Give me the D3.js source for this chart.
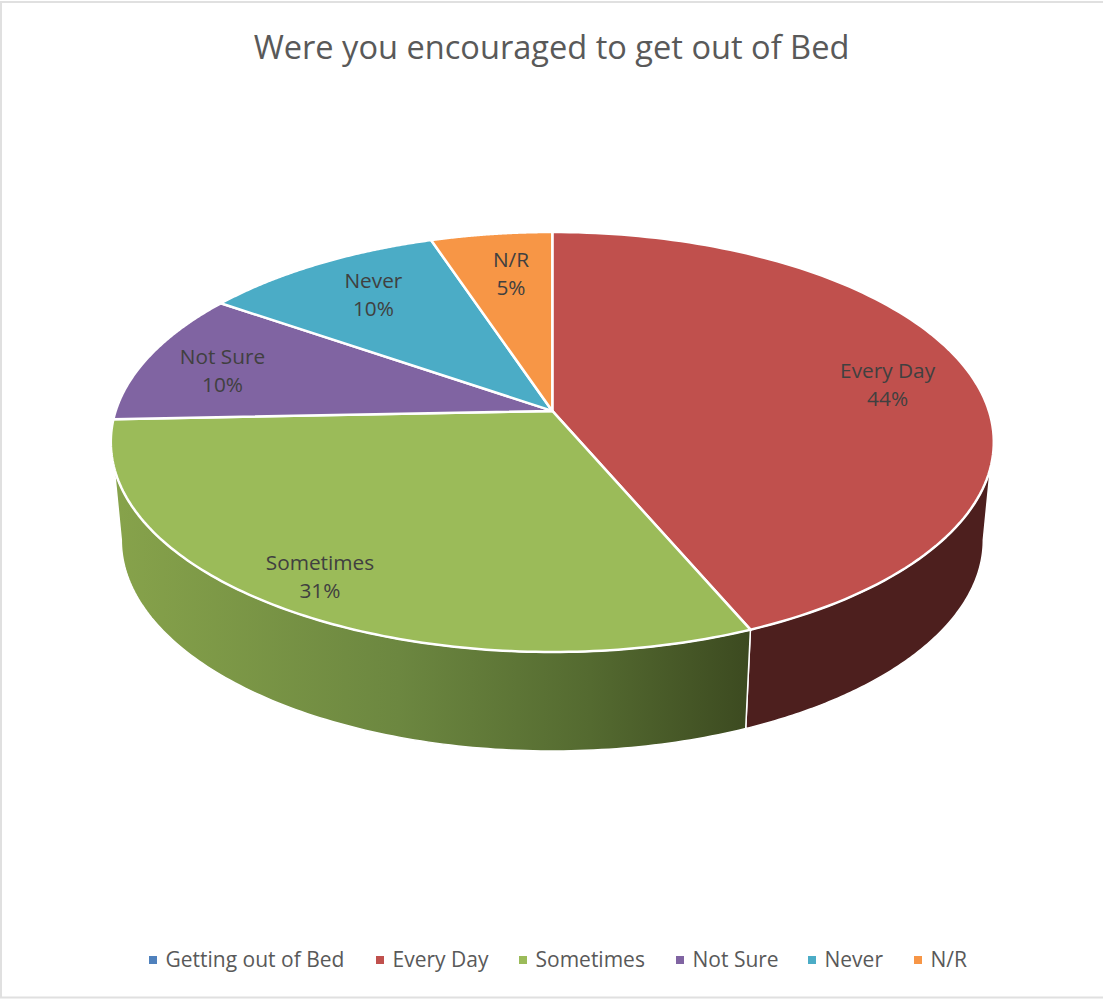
<!DOCTYPE html>
<html>
<head>
<meta charset="utf-8">
<style>
  html, body { margin: 0; padding: 0; background: #fff; }
  svg { display: block; }
  text { font-family: "Open Sans", sans-serif; }
</style>
<script src="https://cdn.jsdelivr.net/npm/d3@7/dist/d3.min.js"></script>
</head>
<body>
<svg id="chart" width="1103" height="999"></svg>
<script>
const titleText = "Were you encouraged to get out of Bed";
const categories = ["Getting out of Bed", "Every Day", "Sometimes", "Not Sure", "Never", "N/R"];
const responses = [0, 17, 12, 4, 4, 2];
const palette = ["#4f81bd", "#c0504d", "#9bbb59", "#8064a2", "#4bacc6", "#f79646"];

// Layout of the tilted disc: rims are ellipses, tilt shifts the hub towards the far edge.
const topRim = { cx: 552.3, cy: 442, rx: 441.5, ry: 210 };
const bottomRim = { cx: 552.3, cy: 540, rx: 431, ry: 211 };
const tilt = -0.148;
const labelRadius = { "Every Day": 0.795, "Sometimes": 0.865, "Not Sure": 0.80, "Never": 0.76, "N/R": 0.75 };
const labelNudge = { "Every Day": [3, 6], "Sometimes": [-6, -2], "Not Sure": [-5, 4], "Never": [4, -1], "N/R": [6, 0] };

const svg = d3.select("#chart");
const total = d3.sum(responses);
const slices = d3.pie().sort(null).value(d => d.value)(
  categories.map((name, i) => ({ name, value: responses[i], color: palette[i] }))
);

// Perspective map of a point on the flat unit disc onto a rim ellipse.
function project(angle, radius, rim) {
  const u = radius * Math.sin(angle), v = -radius * Math.cos(angle);
  const w = 1 + tilt * v;
  const scaleX = d3.scaleLinear().domain([-1, 1]).range([rim.cx - rim.rx, rim.cx + rim.rx]);
  const scaleY = d3.scaleLinear().domain([-1, 1]).range([rim.cy - rim.ry, rim.cy + rim.ry]);
  return [scaleX(u * Math.sqrt(1 - tilt * tilt) / w), scaleY((v + tilt) / w)];
}
const arcPoints = (a0, a1, radius, rim) =>
  d3.range(0, 121).map(i => project(a0 + (a1 - a0) * i / 120, radius, rim));
const line = d3.line();

// Angle at which a rim's ellipse coordinate Y is reached on the left/right silhouette.
function angleAtY(Y, side) {
  const v = (Y - tilt) / (1 - tilt * Y);
  const a = Math.acos(-v);
  return side > 0 ? a : 2 * Math.PI - a;
}

const defs = svg.append("defs");
const shade = defs.append("linearGradient").attr("id", "sideShade")
  .attr("gradientUnits", "userSpaceOnUse")
  .attr("x1", topRim.cx - topRim.rx).attr("x2", 750).attr("y1", 0).attr("y2", 0);
shade.append("stop").attr("offset", "0%").attr("stop-color", "#87a34b");
shade.append("stop").attr("offset", "45%").attr("stop-color", "#6c8740");
shade.append("stop").attr("offset", "75%").attr("stop-color", "#546a30");
shade.append("stop").attr("offset", "100%").attr("stop-color", "#3c4a20");

// Outer wall: only the two slices on the near side show a face.
const everyDay = slices[1], sometimes = slices[2];
const silhouetteTopY = 0.124, silhouetteBottomY = 0;
function wallPath(a0Top, a1Top, a0Bottom, a1Bottom) {
  return line(arcPoints(a0Top, a1Top, 1, topRim).concat(arcPoints(a1Bottom, a0Bottom, 1, bottomRim))) + "Z";
}
svg.append("path")
  .attr("d", wallPath(angleAtY(silhouetteTopY, 1), everyDay.endAngle, angleAtY(silhouetteBottomY, 1), everyDay.endAngle))
  .attr("fill", "#4d1f1e").attr("stroke", "#fff").attr("stroke-width", 1.5).attr("stroke-linejoin", "round");
svg.append("path")
  .attr("d", wallPath(sometimes.startAngle, angleAtY(silhouetteTopY, -1), sometimes.startAngle, angleAtY(silhouetteBottomY, -1)))
  .attr("fill", "url(#sideShade)").attr("stroke", "#fff").attr("stroke-width", 1.5).attr("stroke-linejoin", "round");

// Top face.
svg.append("g").selectAll("path")
  .data(slices.filter(d => d.data.value > 0))
  .join("path")
  .attr("d", d => line([project(0, 0, topRim)].concat(arcPoints(d.startAngle, d.endAngle, 1, topRim))) + "Z")
  .attr("fill", d => d.data.color)
  .attr("stroke", "#fff").attr("stroke-width", 2.5).attr("stroke-linejoin", "round");

// Slice labels: name above percentage.
const labels = svg.append("g").selectAll("text")
  .data(slices.filter(d => d.data.value > 0))
  .join("text")
  .attr("text-anchor", "middle")
  .attr("fill", "#404040")
  .attr("font-size", 20.8)
  .attr("transform", d => {
    const [x, y] = project((d.startAngle + d.endAngle) / 2, labelRadius[d.data.name], topRim);
    const [dx, dy] = labelNudge[d.data.name];
    return `translate(${x + dx},${y + dy})`;
  });
labels.append("tspan").attr("x", 0).attr("y", -7).text(d => d.data.name);
labels.append("tspan").attr("x", 0).attr("y", 21).text(d => `${Math.round(d.data.value / total * 100)}%`);

svg.append("text")
  .attr("x", 551.5).attr("y", 59)
  .attr("text-anchor", "middle")
  .attr("fill", "#595959")
  .attr("font-size", 32.6)
  .text(titleText);

// Legend row.
const legendX = [149, 376, 519, 676, 808, 914];
const legend = svg.append("g").selectAll("g")
  .data(categories)
  .join("g")
  .attr("transform", (d, i) => `translate(${legendX[i]},960)`);
legend.append("rect")
  .attr("x", 0).attr("y", -4).attr("width", 8).attr("height", 8)
  .attr("fill", (d, i) => palette[i]);
legend.append("text")
  .attr("x", 16.5).attr("y", 7)
  .attr("fill", "#595959")
  .attr("font-size", 21)
  .text(d => d);

// Chart frame: top, left and bottom edges.
svg.append("path")
  .attr("d", d3.line()([[1103, 2], [1, 2], [1, 997.5], [1103, 997.5]]))
  .attr("fill", "none").attr("stroke", "#e0e0e0").attr("stroke-width", 2);
</script>
</body>
</html>
